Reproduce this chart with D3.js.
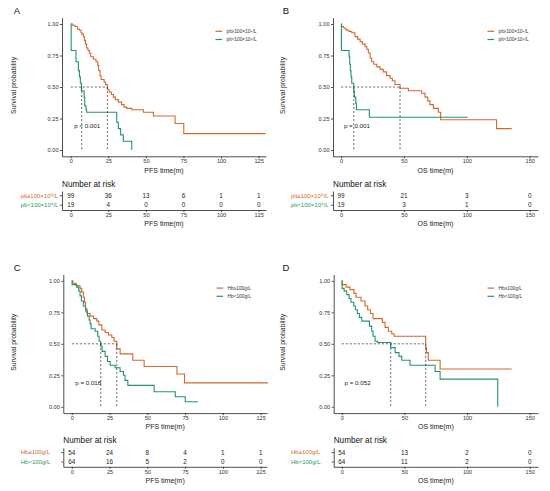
<!DOCTYPE html>
<html>
<head>
<meta charset="utf-8">
<script src="https://cdn.jsdelivr.net/npm/d3@7"></script>
<style>
  body { margin: 0; background: #fff; }
  svg { display: block; font-family: "Liberation Sans", Arial, sans-serif; }
</style>
</head>
<body>
<div id="chart"></div>
<script>
var colors = ['#D2682E', '#24946D'];   // high group, low group

var yTicks = [0, 0.25, 0.5, 0.75, 1];
var pfsTicks = [0, 25, 50, 75, 100, 125];
var osTicks = [0, 50, 100, 150];

var pltLabels = ['plt\u2265100\u00d710\u2079/L', 'plt<100\u00d710\u2079/L'];
var hbLabels = ['Hb\u2265100g/L', 'Hb<100g/L'];

var pvals = ['p < 0.001', 'p = 0.001', 'p = 0.018', 'p = 0.052'];

// [time (months), survival probability]
var pfsPltHigh = [[0,1],[1.3,0.99],[2.9,0.98],[4.4,0.96],[5.8,0.95],[6.9,0.93],[7.5,0.92],[8.4,0.90],[9.1,0.87],[9.8,0.84],
  [10.6,0.81],[11.5,0.79],[12.4,0.77],[13.3,0.74],[15.1,0.72],[16.8,0.70],[18.0,0.67],[18.6,0.63],[19.5,0.59],[20.2,0.56],
  [22.2,0.54],[23.2,0.52],[24.4,0.48],[25.5,0.46],[27.0,0.44],[28.4,0.42],[29.7,0.40],[31.7,0.38],[33.9,0.36],[35.5,0.34],
  [37.2,0.33],[40.6,0.32],[48.3,0.30],[55.0,0.27],[69.4,0.21],[75.2,0.13],[129.7,0.13]];
var pfsPltLow = [[0,1],[0.3,0.79],[3.5,0.70],[5.1,0.63],[5.8,0.58],[6.4,0.53],[7.1,0.47],[8.9,0.42],[9.3,0.35],[10.2,0.32],
  [10.6,0.30],[30.6,0.22],[31.7,0.17],[33.2,0.12],[35.0,0.07],[40.6,0]];

var osPltHigh = [[0,1],[0.5,0.98],[1.9,0.97],[3.2,0.96],[4.5,0.95],[6.4,0.94],[8.5,0.93],[11.1,0.90],[13.2,0.88],[15.1,0.86],
  [16.9,0.84],[19.1,0.82],[20.4,0.80],[21.7,0.77],[23.1,0.73],[24.4,0.70],[26.0,0.68],[28.4,0.66],[31.0,0.64],[33.6,0.62],
  [36.2,0.59],[38.9,0.57],[40.8,0.55],[42.9,0.52],[46.9,0.49],[53.5,0.47],[64.1,0.45],[66.8,0.42],[68.9,0.39],[70.7,0.36],
  [73.4,0.33],[77.4,0.30],[79.2,0.24],[123.7,0.17],[135.7,0.17]];
var osPltLow = [[0,1],[0.3,0.79],[6.4,0.74],[6.9,0.68],[7.4,0.63],[7.9,0.58],[8.5,0.53],[10.1,0.47],[10.6,0.42],[11.7,0.37],
  [12.2,0.32],[22.5,0.26],[100.7,0.26]];

var pfsHbHigh = [[0,1],[0.7,0.98],[2.9,0.96],[5.5,0.94],[6.6,0.91],[7.7,0.87],[8.4,0.83],[9.1,0.78],[10.0,0.74],[12.1,0.72],
  [14.4,0.70],[16.6,0.68],[17.9,0.65],[19.9,0.61],[22.1,0.59],[24.3,0.57],[26.5,0.55],[28.0,0.52],[29.8,0.46],[32.0,0.42],
  [40.4,0.37],[47.9,0.32],[69.6,0.26],[74.6,0.19],[129.9,0.19]];
var pfsHbLow = [[0,1],[0.2,0.97],[3.3,0.95],[4.6,0.92],[5.5,0.88],[6.4,0.84],[7.7,0.80],[9.1,0.76],[10.4,0.72],[11.5,0.69],
  [12.1,0.66],[12.8,0.62],[15.5,0.60],[17.2,0.56],[18.1,0.52],[19.2,0.48],[20.1,0.44],[22.1,0.40],[23.6,0.36],[25.4,0.33],
  [28.7,0.31],[32.0,0.28],[34.2,0.25],[35.3,0.21],[37.1,0.17],[54.5,0.12],[68.5,0.08],[75.1,0.04],[83.5,0.04]];

var osHbHigh = [[0,1],[0.3,0.97],[3.5,0.95],[6.6,0.93],[9.8,0.90],[11.4,0.87],[15.4,0.84],[18.6,0.80],[20.7,0.77],[22.9,0.74],
  [25.0,0.70],[32.4,0.67],[34.6,0.63],[37.2,0.60],[39.9,0.58],[41.8,0.56],[67.0,0.47],[67.6,0.43],[69.1,0.37],[78.5,0.30],
  [135.6,0.30]];
var osHbLow = [[0,1],[0.3,0.94],[1.9,0.92],[4.0,0.89],[5.9,0.86],[7.4,0.83],[9.6,0.80],[10.9,0.77],[12.5,0.74],[14.1,0.71],
  [16.0,0.68],[22.1,0.64],[23.9,0.60],[25.0,0.56],[26.6,0.52],[28.5,0.51],[39.1,0.47],[42.6,0.43],[45.7,0.40],[47.9,0.37],
  [54.5,0.33],[74.5,0.28],[78.5,0.22],[124.5,0.22],[124.5,0]];

// median survival times [high, low]
var medPfsPlt = [24.4, 7.3];
var medOsPlt = [46.9, 10.1];
var medPfsHb = [29.8, 19.2];
var medOsHb = [67.0, 39.1];

// number at risk at each tick, [high row, low row]
var riskPfsPlt = [[99, 36, 13, 6, 1, 1], [19, 4, 0, 0, 0, 0]];
var riskOsPlt = [[99, 21, 3, 0], [19, 3, 1, 0]];
var riskPfsHb = [[54, 24, 8, 4, 1, 1], [64, 16, 5, 2, 0, 0]];
var riskOsHb = [[54, 13, 2, 0], [64, 11, 2, 0]];

var panels = [
  {letter: 'A', curves: [pfsPltHigh, pfsPltLow], medians: medPfsPlt, risk: riskPfsPlt, ticks: pfsTicks, labels: pltLabels, pval: pvals[0], xTitle: 'PFS time(m)'},
  {letter: 'B', curves: [osPltHigh, osPltLow], medians: medOsPlt, risk: riskOsPlt, ticks: osTicks, labels: pltLabels, pval: pvals[1], xTitle: 'OS time(m)'},
  {letter: 'C', curves: [pfsHbHigh, pfsHbLow], medians: medPfsHb, risk: riskPfsHb, ticks: pfsTicks, labels: hbLabels, pval: pvals[2], xTitle: 'PFS time(m)'},
  {letter: 'D', curves: [osHbHigh, osHbLow], medians: medOsHb, risk: riskOsHb, ticks: osTicks, labels: hbLabels, pval: pvals[3], xTitle: 'OS time(m)'}
];

// where each panel sits on the page
var layout = [
  {axisX: 62, endX: 266, tMin: -5.8, tMax: 129.9, dy: 0, letterX: 17, titleX: 13.3, labelX: 20.7},
  {axisX: 333, endX: 538, tMin: -6.4, tMax: 156.6, dy: 0, letterX: 286, titleX: 282.3, labelX: 291},
  {axisX: 63.3, endX: 267, tMin: -5.6, tMax: 129.2, dy: 256.8, letterX: 17.3, titleX: 13.3, labelX: 20.7},
  {axisX: 333.7, endX: 538, tMin: -6.4, tMax: 156.6, dy: 256.8, letterX: 286, titleX: 282.3, labelX: 291}
];

var fontFamily = '"Liberation Sans", Arial, sans-serif';

var svg = d3.select('#chart').append('svg')
    .attr('width', 550)
    .attr('height', 491);

function styleAxis(sel, size) {
  sel.attr('font-size', size).attr('font-family', fontFamily);
  sel.selectAll('path, line').attr('stroke', '#222').attr('stroke-width', 0.8);
  sel.selectAll('text').attr('fill', '#333');
}

function drawPanel(p, L) {
  var g = svg.append('g').attr('transform', 'translate(0,' + L.dy + ')');
  var x = d3.scaleLinear().domain([L.tMin, L.tMax]).range([L.axisX, L.endX]);
  var y = d3.scaleLinear().domain([-0.05, 1.05]).range([156.3, 17.7]);
  var midX = (L.axisX + L.endX) / 2;

  g.append('text')
    .attr('x', L.letterX).attr('y', 14)
    .attr('text-anchor', 'middle')
    .attr('font-size', 9.5)
    .attr('fill', '#111')
    .text(p.letter);

  g.append('text')
    .attr('transform', 'translate(' + L.titleX + ',85.5) rotate(-90)')
    .attr('dy', '0.35em')
    .attr('text-anchor', 'middle')
    .attr('font-size', 6.8)
    .attr('fill', '#222')
    .text('Survival probability');

  //step curves
  var line = d3.line()
    .x(function (d) { return x(d[0]); })
    .y(function (d) { return y(d[1]); })
    .curve(d3.curveStepAfter);

  g.selectAll('path.km')
    .data(p.curves)
    .enter().append('path')
    .attr('class', 'km')
    .attr('d', line)
    .attr('fill', 'none')
    .attr('stroke', function (d, i) { return colors[i]; })
    .attr('stroke-width', 1.1);

  //median lines
  var dash = {stroke: '#333', 'stroke-width': 0.7, 'stroke-dasharray': '2.2,1.8'};
  var hLine = g.append('line')
    .attr('x1', x(0)).attr('x2', x(d3.max(p.medians)))
    .attr('y1', y(0.5)).attr('y2', y(0.5));
  var vLines = g.selectAll('line.med')
    .data(p.medians)
    .enter().append('line')
    .attr('class', 'med')
    .attr('x1', function (d) { return x(d); })
    .attr('x2', function (d) { return x(d); })
    .attr('y1', y(0.5)).attr('y2', y(0));
  Object.keys(dash).forEach(function (k) { hLine.attr(k, dash[k]); vLines.attr(k, dash[k]); });

  g.append('text')
    .attr('x', x(2.3)).attr('y', y(0.19))
    .attr('dy', '0.35em')
    .attr('font-size', 6.2)
    .attr('fill', '#222')
    .text(p.pval);

  //legend
  var leg = g.selectAll('g.leg')
    .data(p.labels)
    .enter().append('g')
    .attr('class', 'leg')
    .attr('transform', function (d, i) { return 'translate(' + (L.endX - 50.5) + ',' + (31.3 + i * 8.2) + ')'; });
  leg.append('line')
    .attr('x1', 0).attr('x2', 6.6)
    .attr('stroke', function (d, i) { return colors[i]; })
    .attr('stroke-width', 1.2);
  leg.append('text')
    .attr('x', 11).attr('dy', '0.35em')
    .attr('font-size', 4.8)
    .attr('fill', '#333')
    .text(function (d) { return d; });

  //axes
  var yAxis = d3.axisLeft(y).tickValues(yTicks).tickFormat(d3.format('.2f'))
    .tickSize(2).tickPadding(1.5).tickSizeOuter(0);
  g.append('g').attr('transform', 'translate(' + L.axisX + ',0)').call(yAxis).call(styleAxis, 5.6);

  var xAxis = d3.axisBottom(x).tickValues(p.ticks).tickSize(2).tickPadding(1).tickSizeOuter(0);
  g.append('g').attr('transform', 'translate(0,156.3)').call(xAxis).call(styleAxis, 5.6);

  g.append('text')
    .attr('x', midX).attr('y', 172.5)
    .attr('text-anchor', 'middle')
    .attr('font-size', 7)
    .attr('fill', '#222')
    .text(p.xTitle);

  //risk table
  var yr = d3.scaleBand().domain(p.labels).range([191, 210]);

  g.append('text')
    .attr('x', L.axisX).attr('y', 186.5)
    .attr('font-size', 8.2)
    .attr('fill', '#111')
    .text('Number at risk');

  p.risk.forEach(function (row, i) {
    g.selectAll(null)
      .data(row)
      .enter().append('text')
      .attr('x', function (d, j) { return x(p.ticks[j]); })
      .attr('y', yr(p.labels[i]) + yr.bandwidth() / 2)
      .attr('dy', '0.35em')
      .attr('text-anchor', 'middle')
      .attr('font-size', 6.3)
      .attr('fill', '#222')
      .text(function (d) { return d; });
  });

  var rAxisY = d3.axisLeft(yr).tickSize(2).tickSizeOuter(0);
  var ry = g.append('g').attr('transform', 'translate(' + L.axisX + ',0)').call(rAxisY).call(styleAxis, 6);
  ry.selectAll('text')
    .attr('text-anchor', 'start')
    .attr('x', L.labelX - L.axisX)
    .attr('fill', function (d, i) { return colors[i]; });

  var rAxisX = d3.axisBottom(x).tickValues(p.ticks).tickSize(2).tickPadding(1).tickSizeOuter(0);
  g.append('g').attr('transform', 'translate(0,210)').call(rAxisX).call(styleAxis, 5.6);

  g.append('text')
    .attr('x', midX).attr('y', 225.8)
    .attr('text-anchor', 'middle')
    .attr('font-size', 7)
    .attr('fill', '#222')
    .text(p.xTitle);
}

panels.forEach(function (p, i) { drawPanel(p, layout[i]); });
</script>
</body>
</html>
